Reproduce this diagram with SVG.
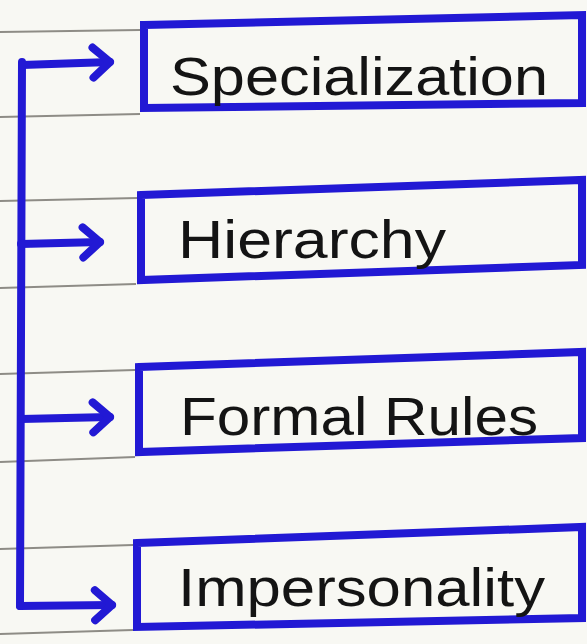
<svg xmlns="http://www.w3.org/2000/svg" width="587" height="644" viewBox="0 0 587 644">
<style>
.paper{stroke:#8e8c86;stroke-width:2;fill:none}
.box{fill:none;stroke:#2219d4;stroke-width:8;stroke-linejoin:miter}
.conn{fill:none;stroke:#2219d4;stroke-width:8;stroke-linecap:round;stroke-linejoin:round}
.lbl{font-family:"Liberation Sans",Arial,sans-serif;font-size:54px;fill:#141414;font-weight:normal}
</style>
<defs>
<marker id="head" markerUnits="userSpaceOnUse" markerWidth="40" markerHeight="40" viewBox="-30 -20 40 40" refX="0" refY="0" orient="auto" overflow="visible">
<path d="M-17,-15 L0,0 L-17,15" fill="none" stroke="#2219d4" stroke-width="8" stroke-linecap="round" stroke-linejoin="round"/>
</marker>
</defs>
<rect width="587" height="644" fill="#f8f8f3"/>
<g id="paper-lines">
<line class="paper" x1="0" y1="32" x2="140" y2="30"/>
<line class="paper" x1="0" y1="117" x2="140" y2="114"/>
<line class="paper" x1="0" y1="201" x2="138" y2="198"/>
<line class="paper" x1="0" y1="288" x2="136" y2="284"/>
<line class="paper" x1="0" y1="374" x2="135" y2="370"/>
<line class="paper" x1="0" y1="462" x2="135" y2="457"/>
<line class="paper" x1="0" y1="549" x2="133" y2="545"/>
<line class="paper" x1="0" y1="634" x2="133" y2="630"/>
</g>
<g id="connectors">
<polyline class="conn" points="22,62 21,334 20,606"/>
<line class="conn" x1="22" y1="65" x2="110" y2="62" marker-end="url(#head)"/>
<line class="conn" x1="21" y1="244" x2="100" y2="242" marker-end="url(#head)"/>
<line class="conn" x1="21" y1="419" x2="110" y2="417" marker-end="url(#head)"/>
<line class="conn" x1="20" y1="606" x2="112" y2="605" marker-end="url(#head)"/>
</g>
<g id="node-specialization">
<polygon class="box" points="144,25 582,15 582,103 144,108"/>
<text class="lbl" x="170" y="95" textLength="378" lengthAdjust="spacingAndGlyphs">Specialization</text>
</g>
<g id="node-hierarchy">
<polygon class="box" points="141,195 582,180 582,265 141,280"/>
<text class="lbl" x="178" y="258" textLength="268" lengthAdjust="spacingAndGlyphs">Hierarchy</text>
</g>
<g id="node-formal-rules">
<polygon class="box" points="139,367 582,352 582,438 139,452"/>
<text class="lbl" x="180" y="435" textLength="358" lengthAdjust="spacingAndGlyphs">Formal Rules</text>
</g>
<g id="node-impersonality">
<polygon class="box" points="137,543 582,527 582,618 137,627"/>
<text class="lbl" x="178" y="606" textLength="367" lengthAdjust="spacingAndGlyphs">Impersonality</text>
</g>
</svg>
